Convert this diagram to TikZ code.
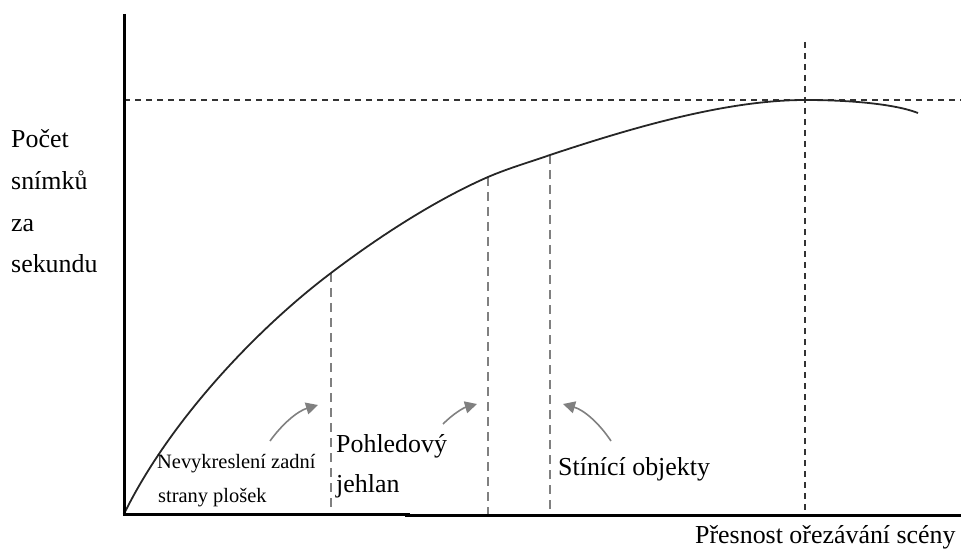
\documentclass[tikz,border=0pt]{standalone}
\usepackage{fontspec}
\setmainfont{Liberation Serif}
\usetikzlibrary{arrows.meta}

\begin{document}
\begin{tikzpicture}[x=1bp,y=-1bp,
  axis/.style={line width=3bp,black},
  curveline/.style={line width=1.8bp,black!85},
  guide/.style={line width=1.3bp,black!50,dash pattern=on 9bp off 6bp},
  limit/.style={line width=1.3bp,black!80,dash pattern=on 6bp off 5bp},
  pointer/.style={line width=1.6bp,black!50,-{Triangle[length=12bp,width=12bp]}},
  lbl/.style={anchor=base west,inner sep=0pt,font=\fontsize{26}{26}\selectfont},
  small/.style={anchor=base west,inner sep=0pt,font=\fontsize{20.5}{20.5}\selectfont}]
\useasboundingbox (0,0) rectangle (961,550);

% points on the performance curve
\coordinate (o)  at (124,514);
\coordinate (c1) at (331,273);
\coordinate (c2) at (488,177);
\coordinate (c3) at (550,155);
\coordinate (pk) at (805,100);
\coordinate (e)  at (918,113);

% ceiling and optimum guides
\draw[limit] (124,100) -- (961,100);
\draw[limit] (805,42) -- (805,514);

% culling levels
\draw[guide] (c1) -- (331,514);
\draw[guide] (c2) -- (488,514);
\draw[guide] (c3) -- (550,514);

% the curve
\draw[curveline] (o) .. controls (170,420) and (258,328) .. (c1)
  .. controls (385,232) and (440,198) .. (c2)
  .. controls (509,168) and (530,162) .. (c3)
  .. controls (640,125) and (730,100) .. (pk)
  .. controls (850,100) and (895,104) .. (e);

% axes
\draw[axis] (124,14) -- (124,515.5);
\draw[axis] (122.5,514) -- (410,514);
\draw[line width=2.6bp,black] (405,515.5) -- (961,515.5);

% axis labels
\node[lbl] (y1) at (11,148) {Počet};
\node[lbl] (y2) at (11,190) {snímků};
\node[lbl] (y3) at (11,232) {za};
\node[lbl] (y4) at (11,273) {sekundu};
\node[lbl] (xl) at (695,543) {Přesnost ořezávání scény};

% technique labels
\node[small] (n1) at (157,468) {Nevykreslení zadní};
\node[small] (n2) at (158,502) {strany plošek};
\node[lbl] (p1) at (336,452) {Pohledový};
\node[lbl] (p2) at (336,492) {jehlan};
\node[lbl] (s1) at (558,475) {Stínící objekty};

% pointers to the levels
\coordinate (a1s) at (270,441); \coordinate (a1e) at (318,405);
\coordinate (a2s) at (443,424); \coordinate (a2e) at (477,404);
\coordinate (a3s) at (611,441); \coordinate (a3e) at (563,404);
\draw[pointer] (a1s) .. controls (283,423) and (298,411) .. (a1e);
\draw[pointer] (a2s) .. controls (453,414) and (463,408) .. (a2e);
\draw[pointer] (a3s) .. controls (599,423) and (584,410) .. (a3e);
\end{tikzpicture}
\end{document}
